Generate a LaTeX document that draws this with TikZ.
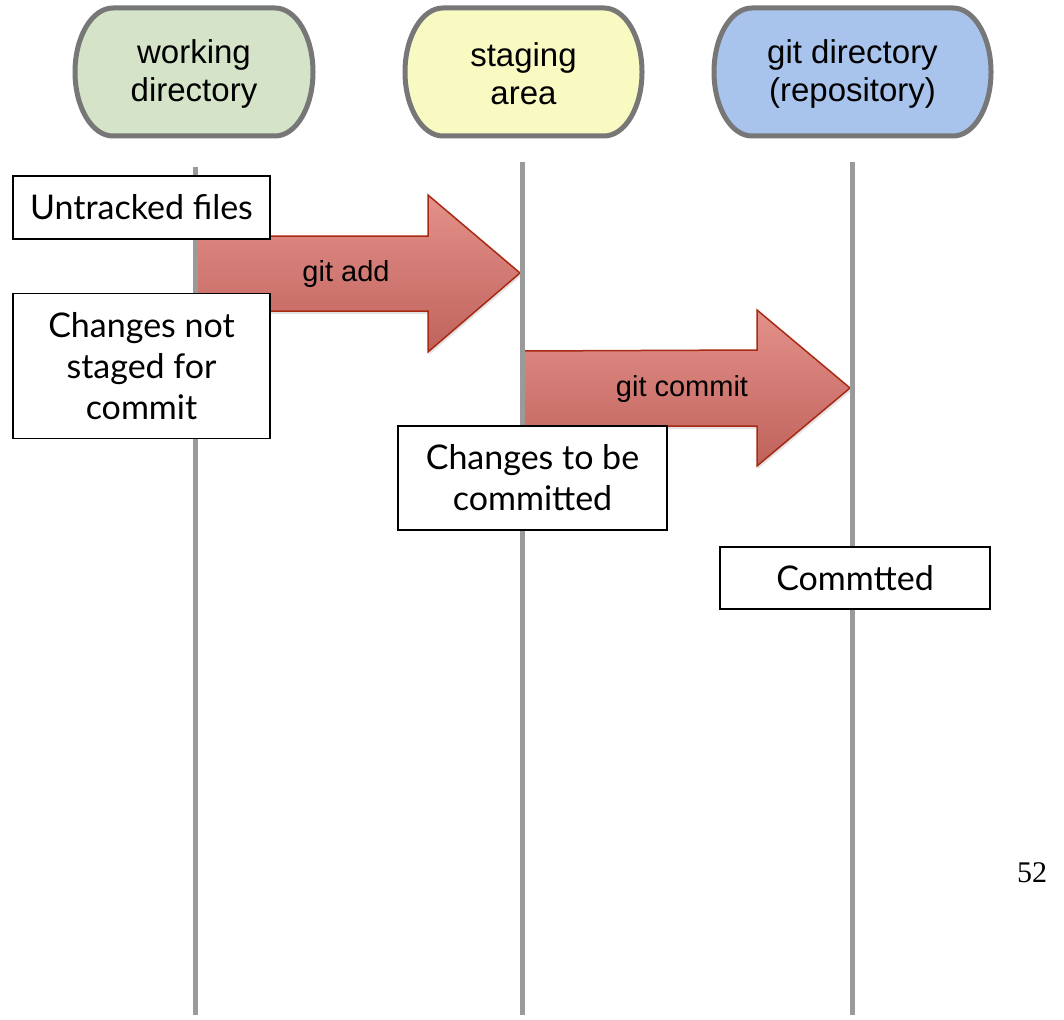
\documentclass[tikz,border=0pt]{standalone}
\usepackage{fontspec}
\setmainfont{Liberation Sans}
\newfontfamily\gillfont{Lato}
\newfontfamily\serifnum{Liberation Serif}
\usetikzlibrary{shadows}
\definecolor{hdrgreen}{HTML}{D5E3C9}
\definecolor{hdryellow}{HTML}{F8FAC2}
\definecolor{hdrblue}{HTML}{A8C4EC}
\definecolor{hdrborder}{HTML}{777777}
\definecolor{lifeline}{HTML}{9A9A9A}
\definecolor{arrowtop}{HTML}{E3918A}
\definecolor{arrowbot}{HTML}{C0625C}
\definecolor{arrowedge}{HTML}{A82A14}
\begin{document}
\begin{tikzpicture}[x=1pt,y=-1pt,
  hdr/.style={draw=hdrborder, line width=5pt},
  hdrtext/.style={align=center, font=\fontsize{33}{38}\selectfont, inner sep=0pt},
  lifelinestyle/.style={draw=lifeline, line width=5pt},
  bigarrow/.style={draw=arrowedge, line width=1.5pt, top color=arrowtop, bottom color=arrowbot,
     drop shadow={opacity=0.22, shadow xshift=1pt, shadow yshift=-3pt}},
  arrowlabel/.style={font=\fontsize{29}{32}\selectfont, inner sep=0pt},
  statebox/.style={draw=black, line width=1.8pt, fill=white, align=center,
     font=\gillfont\fontsize{34}{41}\selectfont, inner sep=0pt}]
\useasboundingbox (0,0) rectangle (1064,1019);

% header shapes
\draw[hdr, fill=hdrgreen] (113,8) -- (275,8) arc[start angle=-90,end angle=90,x radius=38,y radius=64]
  -- (113,136) arc[start angle=90,end angle=270,x radius=38,y radius=64] -- cycle;
\draw[hdr, fill=hdryellow] (443,8) -- (604,8) arc[start angle=-90,end angle=90,x radius=38,y radius=64]
  -- (443,136) arc[start angle=90,end angle=270,x radius=38,y radius=64] -- cycle;
\draw[hdr, fill=hdrblue] (752,8) -- (953,8) arc[start angle=-90,end angle=90,x radius=38,y radius=64]
  -- (752,136) arc[start angle=90,end angle=270,x radius=38,y radius=64] -- cycle;
\node[hdrtext] (work) at (194,73.5) {working\\directory};
\node[hdrtext] (stage) at (523.5,73.5) {staging\\area};
\node[hdrtext] (repo) at (852.5,73.5) {git directory\\(repository)};

% lifeline end points
\coordinate (workTop) at (195,167);
\coordinate (workBot) at (195,1015);
\coordinate (stageTop) at (522,162);
\coordinate (stageBot) at (522,1015);
\coordinate (repoTop) at (852,162);
\coordinate (repoBot) at (852,1015);

% arrows
\path[bigarrow] (197,236) -- (428,236) -- (428,195) -- (520,273) -- (428,352) -- (428,311) -- (197,311) -- cycle;
\path[bigarrow] (524,351) -- (757,350) -- (757,310) -- (850,388) -- (757,466) -- (757,426) -- (524,426) -- cycle;
\node[arrowlabel] (addlabel) at (346,274) {git add};
\node[arrowlabel] (commitlabel) at (682,389) {git commit};

% lifelines
\draw[lifelinestyle] (workTop) -- (workBot);
\draw[lifelinestyle] (stageTop) -- (stageBot);
\draw[lifelinestyle] (repoTop) -- (repoBot);

% state boxes
\node[statebox, minimum width=257, minimum height=63] (untracked) at (141.5,207.5) {Untracked files};
\node[statebox, minimum width=257, minimum height=145] (notstaged) at (141.5,366) {Changes not\\staged for\\commit};
\node[statebox, minimum width=269, minimum height=104] (tobe) at (532.5,478) {Changes to be\\committed};
\node[statebox, minimum width=270, minimum height=62] (committed) at (855,578) {Commtted};

\node[font=\serifnum\fontsize{30}{34}\selectfont, inner sep=0pt] (pagenum) at (1032,873) {52};
\end{tikzpicture}
\end{document}
